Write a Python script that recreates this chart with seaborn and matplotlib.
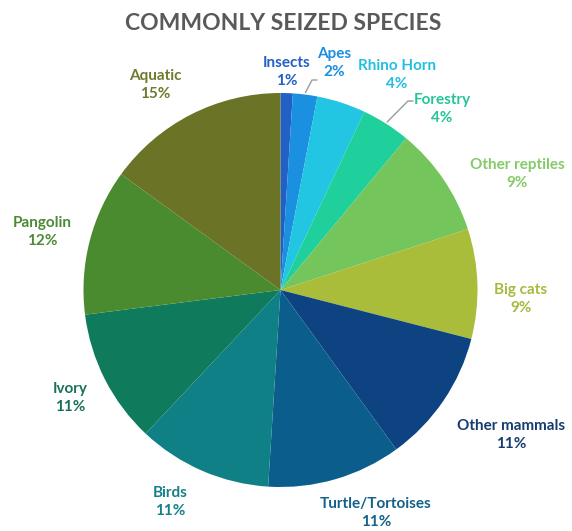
import matplotlib
matplotlib.use("Agg")
import matplotlib.pyplot as plt
import seaborn as sns
import numpy as np

# data
species = ["Insects", "Apes", "Rhino Horn", "Forestry", "Other reptiles", "Big cats",
           "Other mammals", "Turtle/Tortoises", "Birds", "Ivory", "Pangolin", "Aquatic"]
shares = [1, 2, 4, 4, 9, 9, 11, 11, 11, 11, 12, 15]

slice_colors = ["#2160c4", "#1b8fe0", "#22c6e2", "#1fcf9c", "#74c55c", "#a9bd3a",
                "#0d4381", "#0b5e8c", "#0f8186", "#0f7a5c", "#4a8b2f", "#6a7326"]
label_colors = ["#2160c4", "#1b8fe0", "#22bfe0", "#25c49a", "#86c96a", "#a8b93d",
                "#163d6f", "#14618a", "#168088", "#17735a", "#4d8a35", "#6e7a2e"]

# label centres (pixels from top-left), layout only
label_xy = [(287, 72), (334, 63), (397, 75), (442, 109), (517, 174), (521, 299),
            (511, 435), (376, 513), (170, 502), (70, 398), (42, 232), (155, 85)]

sns.set_theme(style="white")
plt.rcParams['font.family'] = ['Lato', 'DejaVu Sans']

W, H = 572, 531
fig = plt.figure(figsize=(W / 100, H / 100), dpi=100)
ax = fig.add_axes([0, 0, 1, 1])

cx, cy, R = 280.5, H - 290, 197
wedges, _ = ax.pie(shares, colors=slice_colors, startangle=90, counterclock=False,
                   center=(cx, cy), radius=R, wedgeprops=dict(linewidth=0))
ax.set_xlim(0, W)
ax.set_ylim(0, H)
ax.set_aspect('equal')
ax.axis('off')

for name, val, col, (lx, ly) in zip(species, shares, label_colors, label_xy):
    ax.text(lx, H - ly, f"{name}\n{val}%", ha="center", va="center", color=col,
            fontsize=11, fontweight="bold", linespacing=1.45)

# leader lines for the small slices
for i, end in [(1, (317, 80)), (3, (413, 101))]:
    w = wedges[i]
    a = np.deg2rad((w.theta1 + w.theta2) / 2)
    x0, y0 = cx + R * 1.01 * np.cos(a), cy + R * 1.01 * np.sin(a)
    ex, ey = end
    ax.plot([x0, ex - 5, ex], [y0, H - ey, H - ey], color="#9a9a9a", lw=1)

ax.text(283, H - 23, "COMMONLY SEIZED SPECIES", ha="center", va="center",
        fontsize=16.5, fontweight="bold", color="#595959")

fig.savefig("out.png", dpi=100)
